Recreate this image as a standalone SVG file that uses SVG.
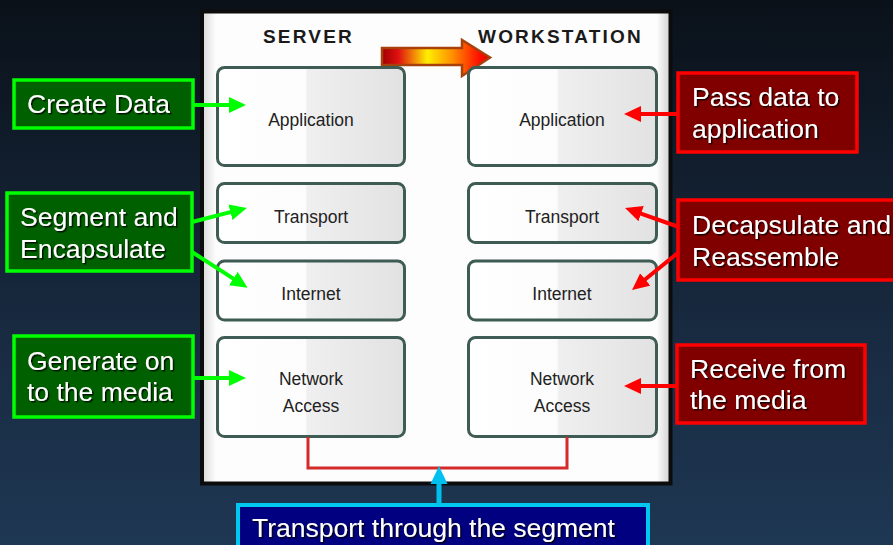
<svg xmlns="http://www.w3.org/2000/svg" width="893" height="545" viewBox="0 0 893 545">
<defs>
  <linearGradient id="bg" x1="0" y1="0" x2="0" y2="1">
    <stop offset="0" stop-color="#0a1119"/>
    <stop offset="0.6" stop-color="#182a40"/>
    <stop offset="1" stop-color="#1e3753"/>
  </linearGradient>
  <linearGradient id="boxfill" x1="0" y1="0" x2="1" y2="0">
    <stop offset="0" stop-color="#ffffff"/>
    <stop offset="0.47" stop-color="#fcfcfc"/>
    <stop offset="0.48" stop-color="#efefef"/>
    <stop offset="1" stop-color="#e2e2e2"/>
  </linearGradient>
  <linearGradient id="panelfill" x1="0" y1="0" x2="1" y2="0">
    <stop offset="0" stop-color="#d8d8d8"/>
    <stop offset="0.03" stop-color="#fdfdfd"/>
    <stop offset="0.97" stop-color="#fdfdfd"/>
    <stop offset="1" stop-color="#d0d0d0"/>
  </linearGradient>
  <linearGradient id="fire" x1="0" y1="0" x2="1" y2="0">
    <stop offset="0" stop-color="#a00000"/>
    <stop offset="0.15" stop-color="#e01010"/>
    <stop offset="0.42" stop-color="#ffee00"/>
    <stop offset="0.65" stop-color="#ff9000"/>
    <stop offset="0.9" stop-color="#ff1000"/>
    <stop offset="1" stop-color="#e00000"/>
  </linearGradient>
  <filter id="ts" x="-5%" y="-20%" width="110%" height="140%">
    <feDropShadow dx="1.5" dy="1.5" stdDeviation="0.6" flood-color="#000" flood-opacity="0.8"/>
  </filter>
  <marker id="hg" markerUnits="userSpaceOnUse" markerWidth="18" markerHeight="18" refX="7" refY="8" orient="auto">
    <path d="M0,0 L17,8 L0,16 z" fill="#00ff00"/>
  </marker>
  <marker id="hr" markerUnits="userSpaceOnUse" markerWidth="18" markerHeight="18" refX="7" refY="8" orient="auto">
    <path d="M0,0 L17,8 L0,16 z" fill="#ff0000"/>
  </marker>
  <style>
    .layer { fill: url(#boxfill); stroke: #3e5b54; stroke-width: 3; }
    .lt { font-family: "Liberation Sans", Arial, sans-serif; font-size: 17.5px; fill: #222; text-anchor: middle; }
    .hd { font-family: "Liberation Sans", Arial, sans-serif; font-size: 19px; font-weight: bold; fill: #1a1a1a; letter-spacing: 2.2px; }
    .lbl { font-family: "Liberation Sans", Arial, sans-serif; font-size: 26.5px; fill: #ffffff; filter: url(#ts); }
    .gbox { fill: #006000; stroke: #00ff00; stroke-width: 3.5; }
    .rbox { fill: #800000; stroke: #ff0000; stroke-width: 3.5; }
    .ga { stroke: #00ff00; stroke-width: 4; fill: none; marker-end: url(#hg); }
    .ra { stroke: #ff0000; stroke-width: 4; fill: none; marker-end: url(#hr); }
  </style>
</defs>
<rect width="893" height="545" fill="url(#bg)"/>

<g id="panel">
  <rect x="202" y="11.5" width="468.5" height="472" fill="url(#panelfill)" stroke="#0c0c0c" stroke-width="4"/>
  <text class="hd" x="263" y="43">SERVER</text>
  <text class="hd" x="478" y="43">WORKSTATION</text>
</g>

<g id="flow-arrow">
  <polygon points="382,48 462,48 462,40 490,57.5 462,76 462,65 382,65" fill="url(#fire)" stroke="#a8400c" stroke-width="2.5" stroke-linejoin="miter"/>
</g>

<g id="server-application"><rect class="layer" x="217.5" y="67.5" width="187" height="98" rx="7"/><text class="lt" x="311" y="126">Application</text></g>
<g id="server-transport"><rect class="layer" x="217.5" y="183.5" width="187" height="59" rx="7"/><text class="lt" x="311" y="223">Transport</text></g>
<g id="server-internet"><rect class="layer" x="217.5" y="261" width="187" height="59" rx="7"/><text class="lt" x="311" y="300">Internet</text></g>
<g id="server-network"><rect class="layer" x="217.5" y="337.5" width="187" height="99" rx="7"/><text class="lt" x="311" y="385">Network</text><text class="lt" x="311" y="412">Access</text></g>

<g id="ws-application"><rect class="layer" x="468.5" y="67.5" width="188" height="98" rx="7"/><text class="lt" x="562" y="126">Application</text></g>
<g id="ws-transport"><rect class="layer" x="468.5" y="183.5" width="188" height="59" rx="7"/><text class="lt" x="562" y="223">Transport</text></g>
<g id="ws-internet"><rect class="layer" x="468.5" y="261" width="188" height="59" rx="7"/><text class="lt" x="562" y="300">Internet</text></g>
<g id="ws-network"><rect class="layer" x="468.5" y="337.5" width="188" height="99" rx="7"/><text class="lt" x="562" y="385">Network</text><text class="lt" x="562" y="412">Access</text></g>

<g id="create-data"><rect class="gbox" x="14" y="80" width="179" height="48"/><text class="lbl" x="27" y="113">Create Data</text></g>
<g id="segment"><rect class="gbox" x="7" y="193" width="185" height="78"/><text class="lbl" x="20" y="226">Segment and</text><text class="lbl" x="20" y="258">Encapsulate</text></g>
<g id="generate"><rect class="gbox" x="14" y="336" width="179" height="81"/><text class="lbl" x="27" y="370">Generate on</text><text class="lbl" x="27" y="401">to the media</text></g>

<g id="pass-data"><rect class="rbox" x="678" y="73" width="179" height="79"/><text class="lbl" x="692" y="106">Pass data to</text><text class="lbl" x="692" y="138">application</text></g>
<g id="decapsulate"><rect class="rbox" x="678" y="200" width="222" height="80"/><text class="lbl" x="692" y="234">Decapsulate and</text><text class="lbl" x="692" y="266">Reassemble</text></g>
<g id="receive"><rect class="rbox" x="677" y="345" width="188" height="78"/><text class="lbl" x="690" y="378">Receive from</text><text class="lbl" x="690" y="409">the media</text></g>

<g id="transport-segment"><rect x="238" y="505" width="410" height="50" fill="#000080" stroke="#00c8f0" stroke-width="4"/><text class="lbl" x="252" y="537">Transport through the segment</text></g>

<g id="connectors">
  <path d="M308,437 V468 H567 V437" fill="none" stroke="#d42a2a" stroke-width="3"/>
  <line class="ga" x1="193" y1="105" x2="236" y2="105"/>
  <line class="ga" x1="192" y1="222" x2="237.2" y2="210.4"/>
  <line class="ga" x1="192" y1="252" x2="239.2" y2="282.4"/>
  <line class="ga" x1="193" y1="378" x2="236" y2="378"/>
  <line class="ra" x1="678" y1="114" x2="634" y2="114"/>
  <line class="ra" x1="679" y1="227" x2="634.5" y2="211.3"/>
  <line class="ra" x1="679" y1="252" x2="639.8" y2="283.8"/>
  <line class="ra" x1="677" y1="386" x2="634" y2="386"/>
  <line x1="439" y1="505" x2="439" y2="481" stroke="#00c0f0" stroke-width="5"/>
  <polygon points="439,466 430.5,484 447.5,484" fill="#00c0f0"/>
</g>
</svg>
